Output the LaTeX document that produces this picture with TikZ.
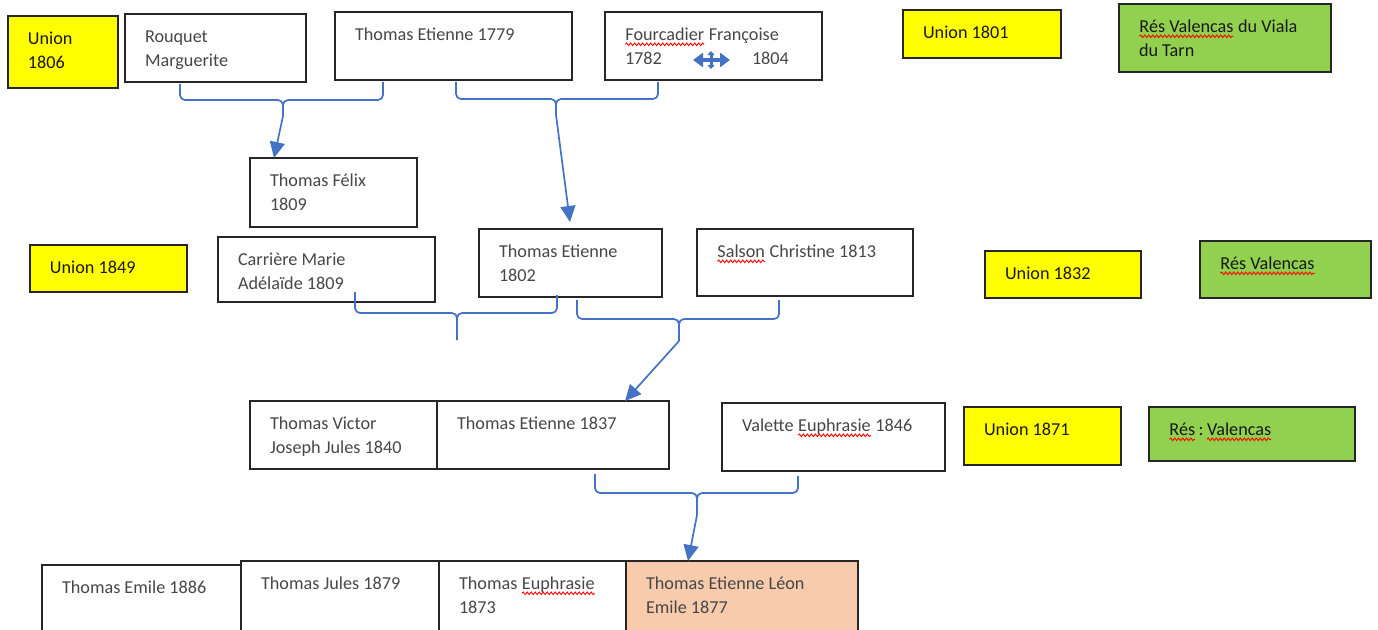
\documentclass[tikz,border=0pt]{standalone}
\usepackage{fontspec}
\setmainfont{Carlito}
\usetikzlibrary{arrows.meta,calc,decorations.pathmorphing}
\definecolor{ublue}{HTML}{4472C4}
\definecolor{uyellow}{HTML}{FFFF00}
\definecolor{ugreen}{HTML}{92D050}
\definecolor{upeach}{HTML}{F8CBAD}
\newcommand\redwave[1]{\tikz[baseline=(rw.base),x=1pt,y=1pt]{\node[draw=none,fill=none,inner sep=0pt,outer sep=0pt,anchor=base,minimum width=0pt,minimum height=0pt] (rw) {#1};\draw[draw=red,fill=none,line width=0.9pt,decorate,decoration={snake,amplitude=1.3pt,segment length=4pt}] ([yshift=-3.5pt]rw.base west) -- ([yshift=-3.5pt]rw.base east);}}
\newcommand\fbx[7]{%
  \pgfmathsetmacro\bw{#5-#3}%
  \pgfmathsetmacro\bh{#6-#4}%
  \node[#2] (#1) at (#3,#4) {\parbox[t][\bh pt][t]{\bw pt}{\vspace*{12pt}\raggedright\leftskip=20pt\parindent=0pt\strut #7\par}};%
}
\begin{document}
\begin{tikzpicture}[x=1pt,y=-1pt,
  box/.style={draw=black!85, line width=1.4pt, anchor=north west, inner sep=0pt, outer sep=0pt, font=\fontsize{18.2}{24}\selectfont, text=black!72},
  wbox/.style={box, fill=white},
  ybox/.style={box, fill=uyellow, text=black!90},
  gbox/.style={box, fill=ugreen, text=black!90},
  pbox/.style={box, fill=upeach},
  conn/.style={draw=ublue, line width=1.7pt, rounded corners=5pt},
  arr/.style={draw=ublue, line width=1.7pt, -{Triangle[length=16pt,width=15pt]}},
  dbl/.style={draw=ublue, line width=4pt, {Triangle[length=10pt,width=14pt]}-{Triangle[length=10pt,width=14pt]}},
  dbls/.style={draw=ublue, line width=3pt, {Triangle[length=4pt,width=7pt]}-{Triangle[length=4pt,width=7pt]}}
]
\useasboundingbox (0,0) rectangle (1378,629);
\fill[white] (0,0) rectangle (1378,629);
\clip (0,0) rectangle (1378,629);

\fbx{u1806}{ybox}{8}{16}{118}{88}{Union\\1806}
\fbx{rouquet}{wbox}{125}{14}{306}{82}{Rouquet\\Marguerite}
\fbx{te1779}{wbox}{335}{12}{572}{80}{Thomas Etienne 1779}
\fbx{fourc}{wbox}{605}{12}{822}{80}{\redwave{Fourcadier} Françoise\\\makebox[127pt][l]{1782}1804}
\fbx{u1801}{ybox}{903}{10}{1061}{58}{Union 1801}
\fbx{res1}{gbox}{1119}{4}{1331}{72}{\redwave{Rés Valencas} du Viala\\du Tarn}
\fbx{felix}{wbox}{250}{158}{417}{227}{Thomas Félix\\1809}
\fbx{u1849}{ybox}{30}{245}{187}{292}{Union 1849}
\fbx{carriere}{wbox}{218}{237}{435}{302}{Carrière Marie\\Adélaïde 1809}
\fbx{te1802}{wbox}{479}{229}{662}{297}{Thomas Etienne\\1802}
\fbx{salson}{wbox}{697}{229}{913}{296}{\redwave{Salson} Christine 1813}
\fbx{u1832}{ybox}{985}{251}{1141}{298}{Union 1832}
\fbx{res2}{gbox}{1200}{241}{1371}{298}{\redwave{Rés Valencas}}
\fbx{victor}{wbox}{250}{401}{437}{469}{Thomas Victor\\Joseph Jules 1840}
\fbx{te1837}{wbox}{437}{401}{669}{469}{Thomas Etienne 1837}
\fbx{valette}{wbox}{722}{403}{945}{471}{Valette \redwave{Euphrasie} 1846}
\fbx{u1871}{ybox}{964}{407}{1121}{465}{Union 1871}
\fbx{res3}{gbox}{1149}{407}{1355}{461}{\redwave{Rés}\,:\,\redwave{Valencas}}
\fbx{emile}{wbox}{42}{565}{241}{650}{Thomas Emile 1886}
\fbx{jules}{wbox}{241}{561}{439}{650}{Thomas Jules 1879}
\fbx{euphr}{wbox}{439}{561}{626}{650}{Thomas \redwave{Euphrasie}\\1873}
\fbx{leon}{pbox}{626}{561}{858}{650}{Thomas Etienne Léon\\Emile 1877}

% double arrow inside Fourcadier box
\draw[dbl] (693,60) -- (730,60);
\draw[dbls] (711,51) -- (711,69);

% brace A
\coordinate (jA) at (283,100);
\draw[conn] ([xshift=55pt,yshift=-2pt]rouquet.south west) |- (jA) -- ++(0,16) coordinate (sA);
\draw[conn] ([xshift=48pt,yshift=-2pt]te1779.south west) |- (jA) -- ++(0,16);
\draw[arr] (sA) -- ([xshift=24pt]felix.north west);

% brace B
\coordinate (jB) at (556,99);
\draw[conn] ([xshift=121pt,yshift=-2pt]te1779.south west) |- (jB) -- ++(0,16) coordinate (sB);
\draw[conn] ([xshift=53pt,yshift=-2pt]fourc.south west) |- (jB) -- ++(0,16);
\draw[arr] (sB) -- ([xshift=91pt,yshift=7pt]te1802.north west);

% brace C
\coordinate (jC) at (457,313);
\draw[conn] ([xshift=137pt,yshift=10pt]carriere.south west) |- (jC) -- ++(0,27) coordinate (sC);
\draw[conn] ([xshift=78pt,yshift=2pt]te1802.south west) |- (jC) -- ++(0,27);

% brace D
\coordinate (jD) at (679,319);
\draw[conn] ([xshift=98pt,yshift=-3pt]te1802.south west) |- (jD) -- ++(0,22) coordinate (sD);
\draw[conn] ([xshift=82pt,yshift=-4pt]salson.south west) |- (jD) -- ++(0,22);
\draw[arr] (sD) -- ([xshift=188pt]te1837.north west);

% brace E
\coordinate (jE) at (697,493);
\draw[conn] ([xshift=158pt,yshift=-5pt]te1837.south west) |- (jE) -- ++(0,22) coordinate (sE);
\draw[conn] ([xshift=76pt,yshift=-5pt]valette.south west) |- (jE) -- ++(0,22);
\draw[arr] (sE) -- ([xshift=62pt]leon.north west);
\end{tikzpicture}
\end{document}
